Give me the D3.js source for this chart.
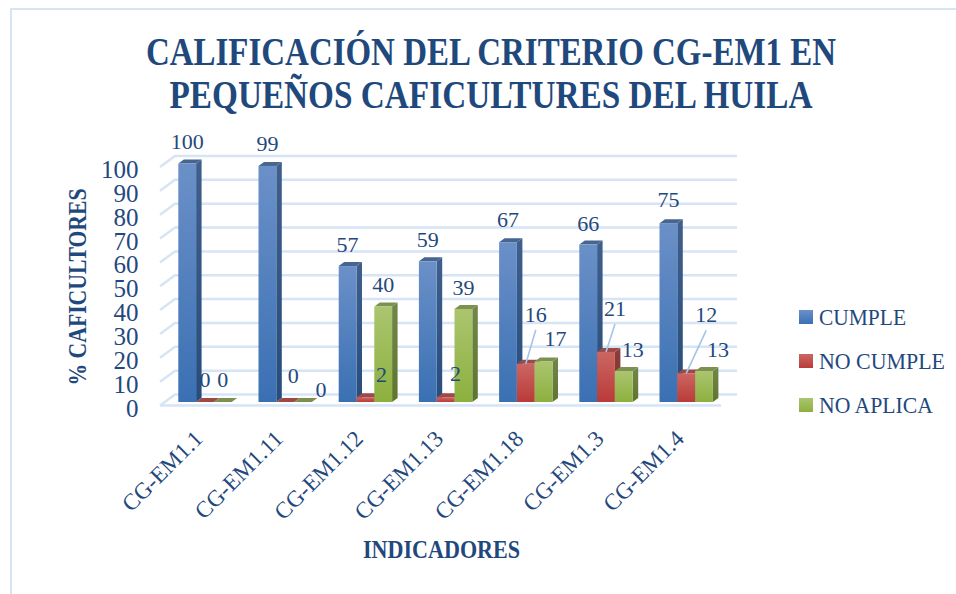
<!DOCTYPE html>
<html>
<head>
<meta charset="utf-8">
<script src="https://cdn.jsdelivr.net/npm/d3@7"></script>
<style>
  html, body { margin: 0; padding: 0; background: #fff; }
  svg { display: block; }
  text { font-family: "Liberation Serif", serif; fill: #1f497d; }
</style>
</head>
<body>
<div id="chart"></div>
<script>
// Data
const categories = ['CG-EM1.1', 'CG-EM1.11', 'CG-EM1.12', 'CG-EM1.13', 'CG-EM1.18', 'CG-EM1.3', 'CG-EM1.4'];
const seriesNames = ['CUMPLE', 'NO CUMPLE', 'NO APLICA'];
const cumple = [100, 99, 57, 59, 67, 66, 75];
const noCumple = [0, 0, 2, 2, 16, 21, 12];
const noAplica = [0, 0, 40, 39, 17, 13, 13];
const yTicks = [0, 10, 20, 30, 40, 50, 60, 70, 80, 90, 100];
const titleLines = ['CALIFICACIÓN DEL CRITERIO CG-EM1 EN', 'PEQUEÑOS CAFICULTURES DEL HUILA'];

// Hand placed data labels, offset from the top centre of each bar
const labelShift = [
    [[0, -22], [0, -22], [0, -21], [0, -21], [0, -22], [0, -21], [0, -23]],
    [[0, -22], [8, -26], [16, -22], [10, -23], [10, -49], [9, -43], [20, -58]],
    [[0, -22], [18, -12], [0, -22], [0, -21], [12, -22], [9, -21], [14, -21]]
];

// Text widths measured on the original, its font is narrower than Liberation Serif
const titleWidths = [690, 643];
const legendWidths = [87, 126, 114];

const width = 956;
const height = 594;
const depthX = 5.5; // 3d look of the bars
const depthY = 4;

const svg = d3.select('#chart')
    .append('svg')
    .attr('width', width)
    .attr('height', height);

// Gradients for the bars and legend keys
const palette = [
    { id: 'blue', top: '#6b90c8', bottom: '#3a70b3', sideTop: '#3f5f8c', sideBottom: '#274d7c', cap: '#46658f' },
    { id: 'red', top: '#cb6663', bottom: '#b93b38', sideTop: '#8a3f3d', sideBottom: '#7f2f2d', cap: '#9c4947' },
    { id: 'green', top: '#abc56f', bottom: '#8cb03f', sideTop: '#71874a', sideBottom: '#5d7530', cap: '#7c9150' }
];
const defs = svg.append('defs');
palette.forEach(p => {
    const front = defs.append('linearGradient').attr('id', p.id).attr('x1', 0).attr('y1', 0).attr('x2', 0).attr('y2', 1);
    front.append('stop').attr('offset', 0).attr('stop-color', p.top);
    front.append('stop').attr('offset', 1).attr('stop-color', p.bottom);
    const side = defs.append('linearGradient').attr('id', p.id + '-side').attr('x1', 0).attr('y1', 0).attr('x2', 0).attr('y2', 1);
    side.append('stop').attr('offset', 0).attr('stop-color', p.sideTop);
    side.append('stop').attr('offset', 1).attr('stop-color', p.sideBottom);
});

// Page frame
svg.append('path')
    .attr('d', 'M956,9 H11 V594')
    .attr('fill', 'none')
    .attr('stroke', '#d6e4f6')
    .attr('stroke-width', 2);

// Title
svg.selectAll('.title')
    .data(titleLines)
    .enter().append('text')
    .attr('class', 'title')
    .attr('x', 491)
    .attr('y', (d, i) => 65 + i * 43)
    .attr('text-anchor', 'middle')
    .attr('font-size', 39)
    .attr('font-weight', 'bold')
    .attr('textLength', (d, i) => titleWidths[i])
    .attr('lengthAdjust', 'spacingAndGlyphs')
    .text(d => d);

// Scales
const xScale = d3.scaleBand()
    .domain(categories)
    .range([178.3 - 8.2, 178.3 - 8.2 + 80.2 * categories.length])
    .paddingInner(0)
    .paddingOuter(0);
const barW = 17.8;
const seriesX = d3.scaleBand().domain(seriesNames).range([8.2, 8.2 + barW * 3]);
const yScale = d3.scaleLinear().domain([0, 100]).range([402, 163.5]);

// Back wall gridlines and the left diagonals
const wallLeft = 175;
const wallRight = 737;
const grid = svg.append('g').attr('stroke', '#d6e4f6').attr('stroke-width', 2.5).attr('fill', 'none');
yTicks.forEach(t => {
    const wy = yScale(t) - 7.5;
    grid.append('path').attr('d', `M${wallRight},${wy} H${wallLeft} L${wallLeft - 15},${wy + 11}`);
});
grid.append('line')
    .attr('x1', 160).attr('x2', 721)
    .attr('y1', yScale(0) + 3.5).attr('y2', yScale(0) + 3.5);

// Bars
const seriesValues = [cumple, noCumple, noAplica];
categories.forEach((cat, i) => {
    const g = svg.append('g').attr('class', 'cat');
    seriesNames.forEach((name, j) => {
        const v = seriesValues[j][i];
        const p = palette[j];
        const x = xScale(cat) + seriesX(name);
        const y = yScale(v);
        const base = yScale(0);
        if (v > 0) {
            g.append('path')
                .attr('d', `M${x + barW},${y} l${depthX},${-depthY} V${base - depthY} l${-depthX},${depthY} Z`)
                .attr('fill', `url(#${p.id}-side)`);
        }
        g.append('path')
            .attr('d', `M${x},${y} l${depthX},${-depthY} h${barW} l${-depthX},${depthY} Z`)
            .attr('fill', p.cap);
        if (v > 0) {
            g.append('rect')
                .attr('x', x).attr('y', y)
                .attr('width', barW).attr('height', base - y)
                .attr('fill', `url(#${p.id})`);
        }
    });
});

// Data labels and their leader lines
seriesNames.forEach((name, j) => {
    categories.forEach((cat, i) => {
        const v = seriesValues[j][i];
        const cx = xScale(cat) + seriesX(name) + barW / 2;
        const top = yScale(v);
        const [dx, dy] = labelShift[j][i];
        if (dy < -40) {
            svg.append('line')
                .attr('x1', cx + dx).attr('y1', top + dy + 15)
                .attr('x2', cx).attr('y2', top)
                .attr('stroke', '#a6c3e8')
                .attr('stroke-width', 1.6);
        }
        svg.append('text')
            .attr('class', 'value')
            .attr('x', cx + dx)
            .attr('y', top + dy + 7)
            .attr('text-anchor', 'middle')
            .attr('font-size', 22)
            .text(v);
    });
});

// Y axis
const yAxis = d3.axisLeft(yScale).tickValues(yTicks).tickSize(0).tickPadding(0);
svg.append('g')
    .attr('class', 'y-axis')
    .attr('transform', 'translate(138.5,6)')
    .call(yAxis)
    .call(g => g.select('.domain').remove())
    .selectAll('text')
    .attr('font-size', 25)
    .style('font-family', '"Liberation Serif", serif')
    .style('fill', '#1f497d');

// X labels, rotated like the original
svg.selectAll('.x-label')
    .data(categories)
    .enter().append('text')
    .attr('class', 'x-label')
    .attr('text-anchor', 'end')
    .attr('font-size', 23)
    .attr('transform', d => `translate(${xScale(d) + 34},440) rotate(-45)`)
    .text(d => d);

// Axis titles
svg.append('text')
    .attr('x', 441.5).attr('y', 558)
    .attr('text-anchor', 'middle')
    .attr('font-size', 24.5)
    .attr('font-weight', 'bold')
    .attr('textLength', 157)
    .attr('lengthAdjust', 'spacingAndGlyphs')
    .text('INDICADORES');

svg.append('text')
    .attr('transform', 'translate(85.5,287) rotate(-90)')
    .attr('text-anchor', 'middle')
    .attr('font-size', 24.5)
    .attr('font-weight', 'bold')
    .attr('textLength', 197)
    .attr('lengthAdjust', 'spacingAndGlyphs')
    .text('% CAFICULTORES');

// Legend
const legend = svg.selectAll('.legend')
    .data(seriesNames)
    .enter().append('g')
    .attr('class', 'legend')
    .attr('transform', (d, i) => `translate(799,${310 + i * 44})`);
legend.append('rect')
    .attr('width', 14)
    .attr('height', 14)
    .attr('fill', (d, i) => `url(#${palette[i].id})`);
legend.append('text')
    .attr('x', 20)
    .attr('y', 15)
    .attr('font-size', 24)
    .attr('textLength', (d, i) => legendWidths[i])
    .attr('lengthAdjust', 'spacingAndGlyphs')
    .text(d => d);
</script>
</body>
</html>
